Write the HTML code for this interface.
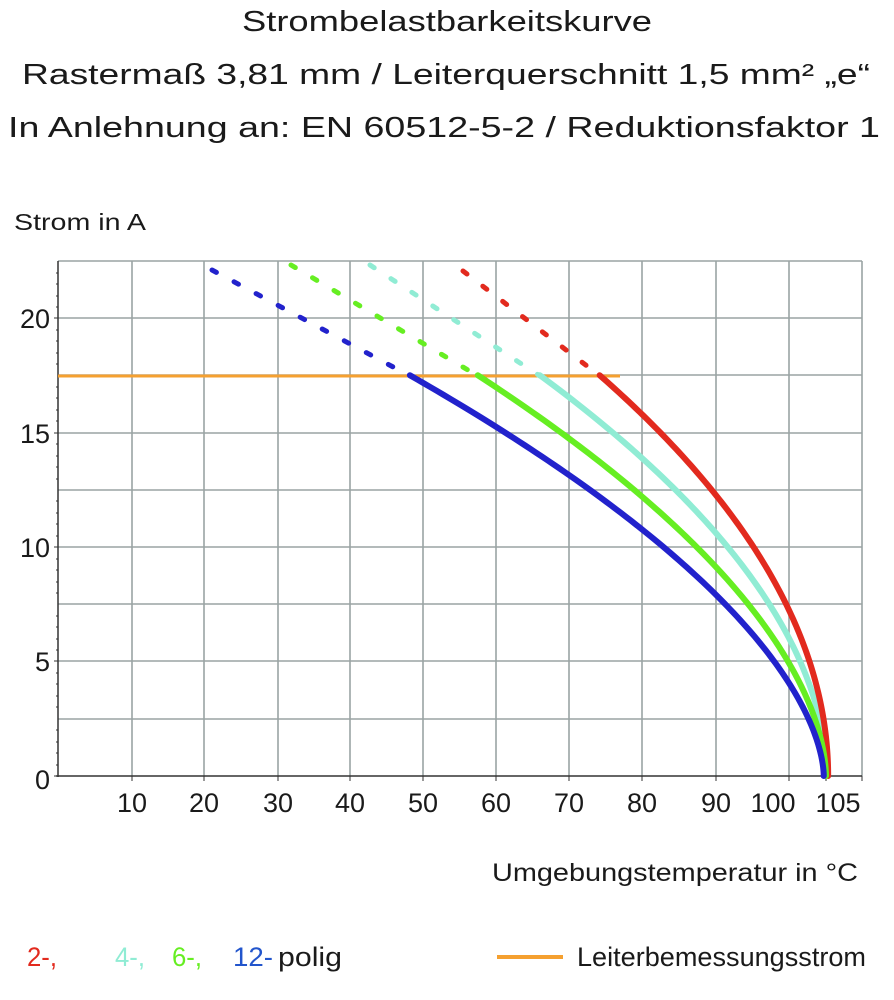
<!DOCTYPE html>
<html><head><meta charset="utf-8"><style>
html,body{margin:0;padding:0;background:#fff;}
svg{display:block;}
text{font-family:"Liberation Sans Narrow","Liberation Sans",sans-serif;fill:#1a1a1a;}
</style></head><body>
<svg width="894" height="1000" viewBox="0 0 894 1000" xmlns="http://www.w3.org/2000/svg">
<text x="447" y="31" font-size="29" text-anchor="middle" textLength="410" lengthAdjust="spacingAndGlyphs">Strombelastbarkeitskurve</text>
<text x="22" y="84" font-size="29" textLength="848" lengthAdjust="spacingAndGlyphs">Rastermaß 3,81 mm / Leiterquerschnitt 1,5 mm² „e“</text>
<text x="8" y="137" font-size="29" textLength="872" lengthAdjust="spacingAndGlyphs">In Anlehnung an: EN 60512-5-2 / Reduktionsfaktor 1</text>
<text x="14" y="230" font-size="23" textLength="132" lengthAdjust="spacingAndGlyphs">Strom in A</text>

<g stroke="#9aa3a3" stroke-width="1.6" fill="none">
<line x1="132" y1="261" x2="132" y2="776"/><line x1="204" y1="261" x2="204" y2="776"/>
<line x1="278" y1="261" x2="278" y2="776"/><line x1="350" y1="261" x2="350" y2="776"/>
<line x1="423" y1="261" x2="423" y2="776"/><line x1="496" y1="261" x2="496" y2="776"/>
<line x1="569" y1="261" x2="569" y2="776"/><line x1="642" y1="261" x2="642" y2="776"/>
<line x1="716" y1="261" x2="716" y2="776"/><line x1="789" y1="261" x2="789" y2="776"/>
<line x1="862" y1="261" x2="862" y2="776"/>
<line x1="58" y1="261" x2="862" y2="261"/>
<line x1="58" y1="318" x2="862" y2="318"/><line x1="58" y1="375" x2="862" y2="375"/>
<line x1="58" y1="433" x2="862" y2="433"/><line x1="58" y1="490" x2="862" y2="490"/>
<line x1="58" y1="547" x2="862" y2="547"/><line x1="58" y1="604" x2="862" y2="604"/>
<line x1="58" y1="661" x2="862" y2="661"/><line x1="58" y1="719" x2="862" y2="719"/>
</g>
<g stroke="#333" stroke-width="1.5">
<line x1="58" y1="261" x2="58" y2="777"/><line x1="56" y1="776" x2="862" y2="776"/>
</g>
<g stroke="#333" stroke-width="1">
<path d="M54 318h4M54 433h4M54 547h4M54 661h4M54 776h4"/>
<path d="M56 273h2M56 284h2M56 296h2M56 307h2M56 330h2M56 341h2M56 353h2M56 364h2M56 387h2M56 398h2M56 410h2M56 421h2M56 444h2M56 456h2M56 467h2M56 479h2M56 501h2M56 513h2M56 524h2M56 536h2M56 559h2M56 570h2M56 582h2M56 593h2M56 616h2M56 627h2M56 639h2M56 650h2M56 673h2M56 684h2M56 696h2M56 707h2M56 730h2M56 742h2M56 753h2M56 765h2"/>
<path d="M132 776v5M204 776v5M278 776v5M350 776v5M423 776v5M496 776v5M569 776v5M642 776v5M716 776v5M789 776v5M826 776v5M862 776v5"/>
</g>

<g font-size="27" text-anchor="end">
<text x="50" y="328">20</text><text x="50" y="443">15</text><text x="50" y="557">10</text>
<text x="50" y="671">5</text><text x="50" y="789">0</text>
</g>
<g font-size="27" text-anchor="middle">
<text x="132" y="812">10</text><text x="204" y="812">20</text><text x="278" y="812">30</text>
<text x="350" y="812">40</text><text x="423" y="812">50</text><text x="496" y="812">60</text>
<text x="569" y="812">70</text><text x="642" y="812">80</text><text x="716" y="812">90</text>
<text x="773" y="812">100</text><text x="838" y="812">105</text>
</g>

<line x1="58" y1="376" x2="620" y2="376" stroke="#f5a030" stroke-width="3"/>

<g fill="none" stroke-width="5" stroke-linecap="round" stroke-dasharray="5 20">
<line x1="212" y1="270" x2="410" y2="376" stroke="#2222cc"/>
<line x1="291" y1="265" x2="478" y2="376" stroke="#66ee22"/>
<line x1="370" y1="265" x2="540" y2="376" stroke="#90ecd4"/>
<line x1="463" y1="271" x2="600" y2="376" stroke="#e22a1e"/>
</g>
<g fill="none" stroke-width="6" stroke-linejoin="round" stroke-linecap="round">
<path id="c4" stroke="#90ecd4" d="M540 375 L827 776"/>
<path id="c2" stroke="#e22a1e" d="M600 375 L828 776"/>
<path id="c6" stroke="#66ee22" d="M478 375 L826 776"/>
<path id="c12" stroke="#2222cc" d="M410 375 L824 776"/>
</g>

<text x="492" y="881" font-size="25" textLength="366" lengthAdjust="spacingAndGlyphs">Umgebungstemperatur in °C</text>
<g font-size="27">
<text x="27" y="966" style="fill:#e22a1e" textLength="30" lengthAdjust="spacingAndGlyphs">2-,</text>
<text x="115" y="966" style="fill:#90ecd4" textLength="30" lengthAdjust="spacingAndGlyphs">4-,</text>
<text x="172" y="966" style="fill:#66ee22" textLength="30" lengthAdjust="spacingAndGlyphs">6-,</text>
<text x="233" y="966" style="fill:#2255cc" textLength="40" lengthAdjust="spacingAndGlyphs">12-</text>
<text x="278" y="966" textLength="64" lengthAdjust="spacingAndGlyphs">polig</text>
<text x="577" y="966" textLength="289" lengthAdjust="spacingAndGlyphs">Leiterbemessungsstrom</text>
</g>
<line x1="497" y1="957" x2="563" y2="957" stroke="#f5a030" stroke-width="4"/>
</svg>
<script>
// I = k*(T0-T)^n, starting at I=17.5
[["c2",105.5,0.5,74.2],["c4",105.3,0.526,66],["c6",105.2,0.565,57.5],["c12",104.9,0.59,48.2]].forEach(function(c){
  var T0=c[1],n=c[2],Ts=c[3],k=17.5/Math.pow(T0-Ts,n);
  var d="",N=120;
  for(var i=0;i<=N;i++){
    var u=i/N, T=T0-(T0-Ts)*Math.pow(1-u,2);
    var I=k*Math.pow(Math.max(T0-T,0),n);
    var X=58+7.3*T, Y=776-22.9*I;
    d+=(i?" L":"M")+X.toFixed(2)+" "+Y.toFixed(2);
  }
  document.getElementById(c[0]).setAttribute("d",d);
});
</script>
</body></html>
